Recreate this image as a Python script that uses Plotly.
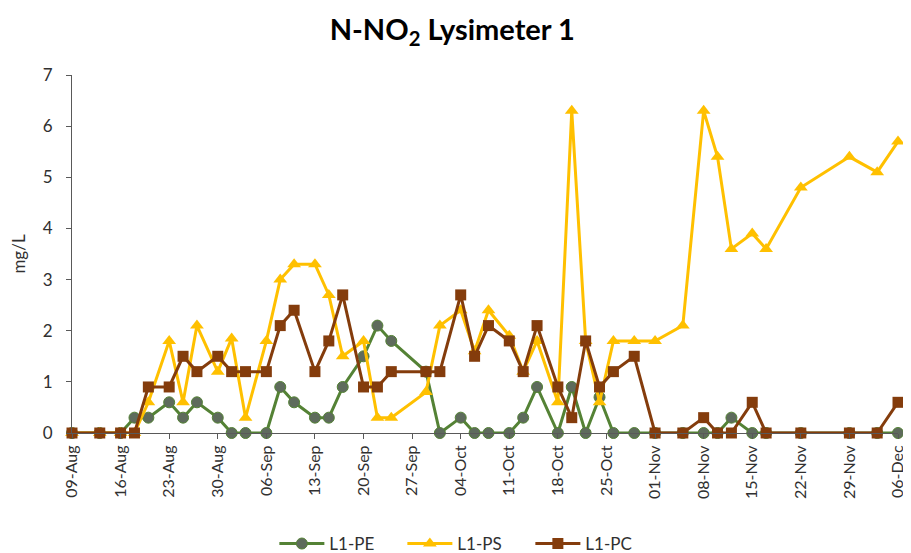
import plotly.graph_objects as go

dates = ["2013-08-09", "2013-08-13", "2013-08-16", "2013-08-18", "2013-08-20", "2013-08-23",
         "2013-08-25", "2013-08-27", "2013-08-30", "2013-09-01", "2013-09-03", "2013-09-06",
         "2013-09-08", "2013-09-10", "2013-09-13", "2013-09-15", "2013-09-17", "2013-09-20",
         "2013-09-22", "2013-09-24", "2013-09-29", "2013-10-01", "2013-10-04", "2013-10-06",
         "2013-10-08", "2013-10-11", "2013-10-13", "2013-10-15", "2013-10-18", "2013-10-20",
         "2013-10-22", "2013-10-24", "2013-10-26", "2013-10-29", "2013-11-01", "2013-11-05",
         "2013-11-08", "2013-11-10", "2013-11-12", "2013-11-15", "2013-11-17", "2013-11-22",
         "2013-11-29", "2013-12-03", "2013-12-06"]

l1_pe = [0, 0, 0, 0.3, 0.3, 0.6, 0.3, 0.6, 0.3, 0, 0, 0,
         0.9, 0.6, 0.3, 0.3, 0.9, 1.5, 2.1, 1.8, 1.2, 0, 0.3, 0,
         0, 0, 0.3, 0.9, 0, 0.9, 0, 0.7, 0, 0, 0, 0,
         0, 0, 0.3, 0, 0, 0, 0, 0, 0]

l1_ps = [0, 0, 0, 0, 0.6, 1.8, 0.6, 2.1, 1.2, 1.85, 0.3, 1.8,
         3.0, 3.3, 3.3, 2.7, 1.5, 1.8, 0.3, 0.3, 0.8, 2.1, 2.4, 1.6,
         2.4, 1.9, 1.2, 1.8, 0.6, 6.3, 1.8, 0.6, 1.8, 1.8, 1.8, 2.1,
         6.3, 5.4, 3.6, 3.9, 3.6, 4.8, 5.4, 5.1, 5.7]

l1_pc = [0, 0, 0, 0, 0.9, 0.9, 1.5, 1.2, 1.5, 1.2, 1.2, 1.2,
         2.1, 2.4, 1.2, 1.8, 2.7, 0.9, 0.9, 1.2, 1.2, 1.2, 2.7, 1.5,
         2.1, 1.8, 1.2, 2.1, 0.9, 0.3, 1.8, 0.9, 1.2, 1.5, 0, 0,
         0.3, 0, 0, 0.6, 0, 0, 0, 0, 0.6]

tick_vals = ["2013-08-09", "2013-08-16", "2013-08-23", "2013-08-30", "2013-09-06", "2013-09-13",
             "2013-09-20", "2013-09-27", "2013-10-04", "2013-10-11", "2013-10-18", "2013-10-25",
             "2013-11-01", "2013-11-08", "2013-11-15", "2013-11-22", "2013-11-29", "2013-12-06"]
tick_text = ["09-Aug", "16-Aug", "23-Aug", "30-Aug", "06-Sep", "13-Sep", "20-Sep", "27-Sep",
             "04-Oct", "11-Oct", "18-Oct", "25-Oct", "01-Nov", "08-Nov", "15-Nov", "22-Nov",
             "29-Nov", "06-Dec"]

FONT = "Lato, 'Open Sans', sans-serif"
TXT = "#303030"

fig = go.Figure()
fig.add_trace(go.Scatter(
    x=dates, y=l1_pe, name="L1-PE", mode="lines+markers", cliponaxis=False,
    line=dict(color="#548235", width=3),
    marker=dict(symbol="circle", size=11, color="#5E6B5C", line=dict(color="#548235", width=1))))
fig.add_trace(go.Scatter(
    x=dates, y=l1_ps, name="L1-PS", mode="lines+markers", cliponaxis=False,
    line=dict(color="#FFC000", width=3),
    marker=dict(symbol="triangle-up", size=12, color="#FFC000")))
fig.add_trace(go.Scatter(
    x=dates, y=l1_pc, name="L1-PC", mode="lines+markers", cliponaxis=False,
    line=dict(color="#843C0C", width=3),
    marker=dict(symbol="square", size=11, color="#843C0C")))

fig.update_layout(
    width=903, height=545,
    paper_bgcolor="white", plot_bgcolor="white",
    margin=dict(l=64, r=13, t=67, b=120, autoexpand=False),
    font=dict(family=FONT, color=TXT, size=15),
    title=dict(text="<b>N-NO<sub>2</sub> Lysimeter 1</b>", x=0.492, xanchor="center",
               y=0.96, yanchor="middle", font=dict(size=29, color="#000000", family=FONT)),
    showlegend=True,
    legend=dict(orientation="h", x=0.245, xanchor="left", y=-0.31, yanchor="middle",
                font=dict(size=17, color=TXT), itemwidth=45, tracegroupgap=0,
                entrywidth=68, entrywidthmode="pixels"),
    xaxis=dict(type="date", range=["2013-08-09", "2013-12-06"], automargin=False,
               tickmode="array", tickvals=tick_vals, ticktext=tick_text, tickangle=-90,
               showgrid=False, zeroline=False, showline=True, linecolor="#595959", linewidth=1,
               ticks="outside", ticklen=5, tickcolor="#595959",
               tickfont=dict(size=16, color=TXT)),
    yaxis=dict(range=[0, 7], dtick=1, showgrid=False, zeroline=False, automargin=False,
               showline=True, linecolor="#595959", linewidth=1,
               ticks="outside", ticklen=5, tickcolor="#595959", ticklabelstandoff=10,
               tickfont=dict(size=17, color=TXT),
               title=dict(text="mg/L", font=dict(size=17, color=TXT), standoff=22)),
)

fig.write_html("out.html")
